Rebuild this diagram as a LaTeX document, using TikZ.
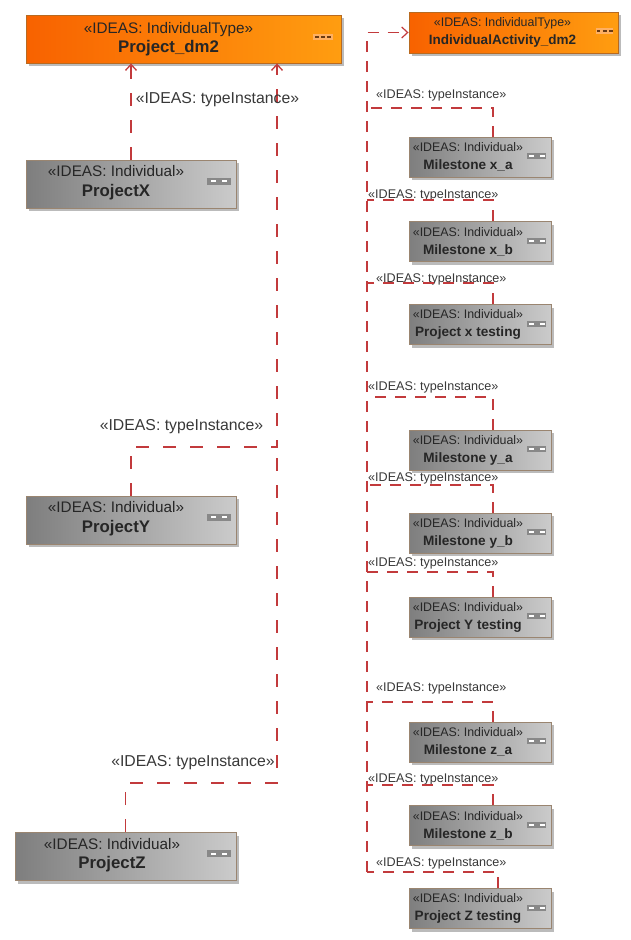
\documentclass[tikz,border=0pt]{standalone}
\usepackage{fontspec}
\setmainfont{Liberation Sans}
\usetikzlibrary{arrows.meta,positioning,shadows,calc}
\definecolor{depred}{HTML}{C23A3C}
\definecolor{ink}{HTML}{262626}
\definecolor{ink2}{HTML}{383838}
\definecolor{rimg}{HTML}{9A8570}
\definecolor{rimo}{HTML}{B86A20}
\definecolor{gdark}{HTML}{7E7E7E}
\definecolor{glight}{HTML}{CBCBCB}
\definecolor{odark}{HTML}{F86200}
\definecolor{olight}{HTML}{FF9D10}
\definecolor{shade}{HTML}{BBBBBB}
\definecolor{icong}{HTML}{888888}
\definecolor{icono}{HTML}{FFB063}
\definecolor{icond}{HTML}{6A3A12}
\tikzset{
  >={Straight Barb[length=6pt,width=11pt]},
  bx/.style={draw,line width=0.9pt,inner sep=0pt,drop shadow={shadow xshift=3pt,shadow yshift=-3pt,fill=shade,opacity=1}},
  obx/.style={bx,draw=rimo,left color=odark,right color=olight},
  gbx/.style={bx,draw=rimg,left color=gdark,right color=glight},
  ltxt/.style={align=center,text=ink,inner sep=0pt,font=\fontsize{15.3}{19.5}\selectfont},
  rtxt/.style={align=center,text=ink,inner sep=0pt,font=\fontsize{12.4}{18}\selectfont},
  llab/.style={text=ink2,inner sep=0pt,font=\fontsize{15.8}{18}\selectfont},
  rlab/.style={text=ink2,inner sep=0pt,anchor=west,font=\fontsize{12.6}{15}\selectfont},
  gicon/.style={fill=icong,inner sep=0pt,minimum width=24pt,minimum height=7pt,
    path picture={\draw[white,line width=2pt] ([xshift=-8pt]path picture bounding box.center) -- ++(5pt,0pt)
      ([xshift=3pt]path picture bounding box.center) -- ++(5pt,0pt);}},
  ricon/.style={gicon,minimum width=19pt,minimum height=6pt},
  oicon/.style={fill=icono,inner sep=0pt,minimum width=20pt,minimum height=6pt,
    path picture={\draw[icond,line width=1.4pt] ([xshift=-8pt]path picture bounding box.center) -- ++(3.5pt,0pt)
      ([xshift=-2pt]path picture bounding box.center) -- ++(4pt,0pt) ([xshift=4pt]path picture bounding box.center) -- ++(4pt,0pt);}},
  dep/.style={draw=depred,line width=1.3pt,dash pattern=on 13pt off 14pt},
  rdep/.style={draw=depred,line width=1.2pt,dash pattern=on 11pt off 9pt},
}
\begin{document}
\begin{tikzpicture}[x=1pt,y=-1pt]
  \useasboundingbox (0,0) rectangle (630,940);
  % the two types
  \node[obx,minimum width=315pt,minimum height=48pt] (pdm) at (183.5,39) {};
  \node[ltxt] (pdm-t) at ([xshift=-15pt]pdm.center) {«IDEAS: IndividualType»\\{\fontsize{16.8}{19.5}\selectfont\bfseries Project\_dm2}};
  \node[oicon] (pdm-i) at ([xshift=-18pt,yshift=2pt]pdm.east) {};
  \node[obx,minimum width=209pt,minimum height=41pt] (iad) at (513.5,32.5) {};
  \node[rtxt] (iad-t) at ([xshift=-11pt]iad.center) {«IDEAS: IndividualType»\\{\fontsize{13.5}{18}\selectfont\bfseries IndividualActivity\_dm2}};
  \node[oicon,minimum width=17pt] (iad-i) at ([xshift=-13.5pt,yshift=1.5pt]iad.east) {};
  % projects
  \foreach \n/\x/\y/\w/\s/\t in {px/131/184/210/15/ProjectX,py/131/520/210/15/ProjectY,pz/125.5/856.5/221/13.5/ProjectZ}{
    \node[gbx,minimum width=\w pt,minimum height=48pt] (\n) at (\x,\y) {};
    \node[ltxt] (\n-t) at ([xshift=-\s pt,yshift=1.5pt]\n.center) {«IDEAS: Individual»\\{\fontsize{16.8}{19.5}\selectfont\bfseries \t}};
    \node[gicon] (\n-i) at ([xshift=-17pt,yshift=3pt]\n.east) {};
  }
  \coordinate (ybend) at (277,447);
  \coordinate (zbend) at (277,783);
  \draw[dep,->] (px.north) -- (px.north |- pdm.south);
  \draw[dep,->] (py.north) |- (ybend) -- (ybend |- pdm.south);
  \draw[dep] (pz.north) |- (zbend) -- (ybend);
  \node[llab] (lab-x) at (217.5,100) {«IDEAS: typeInstance»};
  \node[llab] (lab-y) at (181.5,427) {«IDEAS: typeInstance»};
  \node[llab] (lab-z) at (193,763) {«IDEAS: typeInstance»};
  % milestones and tests
  \coordinate (trunk) at (367,872);
  \draw[rdep,->] (trunk) |- (iad.west);
  \foreach \n/\yc/\yl/\ylab/\xlab/\vx/\t in {
      mxa/157/108/95/376/493/Milestone x\_a,
      mxb/241.5/200/195/368/493/Milestone x\_b,
      txx/324.5/283/279/376/493/Project x testing,
      mya/450/397/387/368/493/Milestone y\_a,
      myb/533/485/478/368/493/Milestone y\_b,
      tyy/617/572/563/368/493/Project Y testing,
      mza/742/702/688/376/493/Milestone z\_a,
      mzb/825.5/785/779/368/493/Milestone z\_b,
      tzz/908.5/872/863/376/498/Project Z testing}{
    \node[gbx,minimum width=142pt,minimum height=40pt] (\n) at (480,\yc) {};
    \node[rtxt] (\n-t) at ([xshift=-12pt]\n.center) {«IDEAS: Individual»\\{\fontsize{13.6}{18}\selectfont\bfseries \t}};
    \node[ricon] (\n-i) at ([xshift=-14.5pt,yshift=1pt]\n.east) {};
    \node[rlab] (\n-l) at (\xlab,\ylab) {«IDEAS: typeInstance»};
    \coordinate (\n-c) at (\vx,\yl);
    \draw[rdep] (\n-c |- \n.north) -- (\n-c) -- (\n-c -| trunk);
  }
\end{tikzpicture}
\end{document}
